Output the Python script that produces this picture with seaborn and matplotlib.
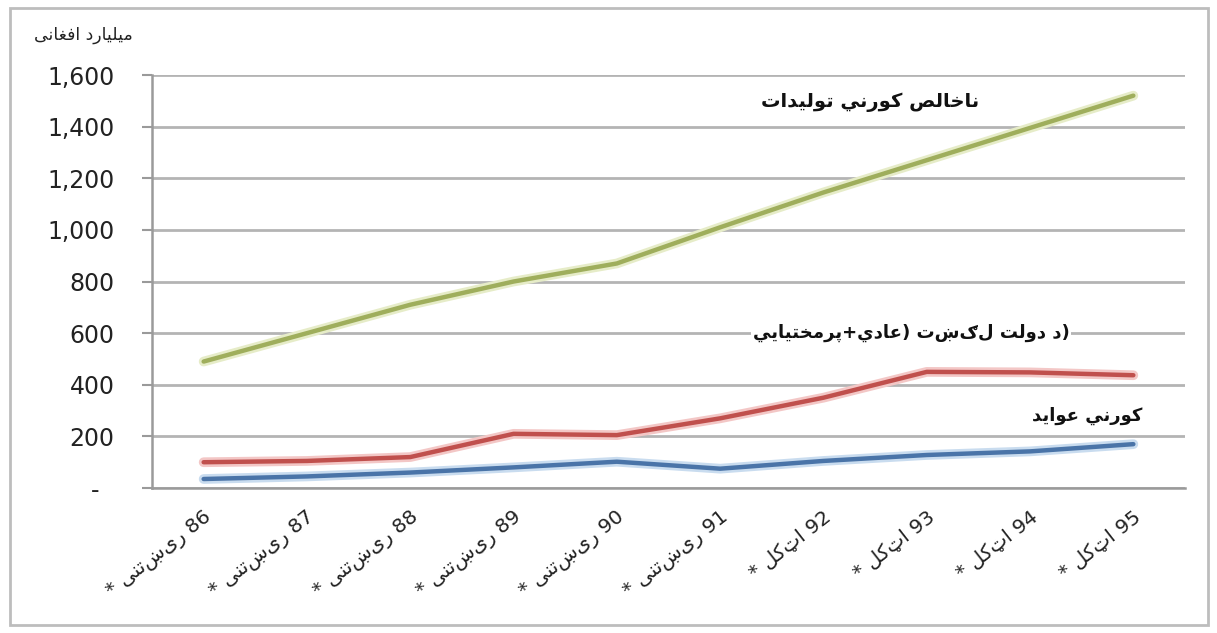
import re
import pandas as pd
import matplotlib
matplotlib.use('Agg')
import matplotlib.pyplot as plt
import matplotlib.patheffects as pe
from matplotlib.patches import Rectangle
from matplotlib.ticker import FixedLocator, FuncFormatter
import seaborn as sns

# data (billion afghanis)
years = ['86', '87', '88', '89', '90', '91', '92', '93', '94', '95']
status = ['ریښتنی'] * 6 + ['اټکل'] * 4
gdp = [490, 600, 710, 800, 870, 1010, 1145, 1270, 1395, 1520]
spending = [100, 105, 120, 210, 205, 270, 350, 450, 448, 437]
revenue = [35, 45, 60, 80, 102, 75, 105, 128, 142, 170]

series_names = ['ناخالص کورني تولیدات', 'د دولت لګښت (عادي+پرمختیایي)', 'کورني عواید']
y_title = 'میلیارد افغانی'

# matplotlib does no Arabic shaping: pick presentation forms by hand
# forms: isolated, final, initial, medial
AR_FORMS = {
    'ا': '\uFE8D\uFE8E', 'د': '\uFEA9\uFEAA', 'ر': '\uFEAD\uFEAE', 'و': '\uFEED\uFEEE',
    'ب': '\uFE8F\uFE90\uFE91\uFE92', 'پ': '\uFB56\uFB57\uFB58\uFB59',
    'ت': '\uFE95\uFE96\uFE97\uFE98', 'ح': '\uFEA1\uFEA2\uFEA3\uFEA4',
    'خ': '\uFEA5\uFEA6\uFEA7\uFEA8', 'ص': '\uFEB9\uFEBA\uFEBB\uFEBC',
    'ع': '\uFEC9\uFECA\uFECB\uFECC', 'غ': '\uFECD\uFECE\uFECF\uFED0',
    'ف': '\uFED1\uFED2\uFED3\uFED4', 'ک': '\uFB8E\uFB8F\uFB90\uFB91',
    'ل': '\uFEDD\uFEDE\uFEDF\uFEE0', 'م': '\uFEE1\uFEE2\uFEE3\uFEE4',
    'ن': '\uFEE5\uFEE6\uFEE7\uFEE8', 'ي': '\uFEF1\uFEF2\uFEF3\uFEF4',
    'ی': '\uFBFC\uFBFD\uFBFE\uFBFF',
}


def shape(word):
    out = []
    for i, ch in enumerate(word):
        forms = AR_FORMS.get(ch)
        if forms is None:
            out.append(ch)
            continue
        prev = word[i - 1] if i > 0 else ''
        nxt = word[i + 1] if i < len(word) - 1 else ''
        join_prev = len(AR_FORMS.get(prev, '')) == 4
        join_next = len(forms) == 4 and nxt in AR_FORMS
        idx = [[0, 2], [1, 3]][join_prev][join_next]
        out.append(forms[idx])
    return ''.join(out)


def rtl(s):
    # a trailing ")" stays on the right, as in the source chart
    tail = ''
    if s.endswith(')'):
        s, tail = s[:-1], ')'
    s = re.sub(r'[\u0600-\u06FF]+', lambda m: shape(m.group()), s)
    parts = re.findall(r'\d[\d,]*|.', s)
    return ''.join(parts[::-1]).translate(str.maketrans('()', ')(')) + tail


n = len(years)
df = pd.DataFrame({
    'idx': list(range(n)) * 3,
    'value': gdp + spending + revenue,
    'series': [series_names[0]] * n + [series_names[1]] * n + [series_names[2]] * n,
})

sns.set_style('white')
plt.rcParams['font.family'] = ['DejaVu Sans']

fig = plt.figure(figsize=(12.17, 6.33), dpi=100)
ax = fig.add_axes([0.1249, 0.229, 0.8488, 0.6525])

colors = ['#9fae5c', '#c0504d', '#4a74a8']
glow = ['#e6ecc8', '#f3c7c6', '#c9dcef']
sns.lineplot(data=df, x='idx', y='value', hue='series', palette=colors,
             linewidth=3.2, legend=False, ax=ax, zorder=3)
for line, g in zip(ax.lines, glow):
    line.set_path_effects([pe.Stroke(linewidth=7, foreground=g), pe.Normal()])

ax.set_xlim(-0.5, n - 0.5)
ax.set_ylim(0, 1600)
ax.set_yticks(range(0, 1601, 200))
ax.yaxis.set_major_formatter(FuncFormatter(lambda v, p: '-  ' if v == 0 else f'{int(v):,}'))
ax.grid(axis='y', color='#b4b4b4', linewidth=2)
ax.set_axisbelow(True)

ax.set_xticks(range(n))
ax.set_xticklabels([rtl(f'{y} {s} *') for s, y in zip(status, years)],
                   rotation=38, ha='right', va='top', rotation_mode='anchor')
ax.xaxis.set_minor_locator(FixedLocator([i - 0.5 for i in range(n + 1)]))
ax.tick_params(axis='x', which='major', length=0, pad=14, labelsize=14.5, labelcolor='#222222')
ax.tick_params(axis='x', which='minor', length=7, width=1.5, color='#9a9a9a', direction='out')
ax.tick_params(axis='y', length=7, width=1.5, color='#9a9a9a', pad=20, labelsize=17,
               labelcolor='#222222', left=True)
ax.set_xlabel('')
ax.set_ylabel('')

for side in ['top', 'right']:
    ax.spines[side].set_visible(False)
for side in ['left', 'bottom']:
    ax.spines[side].set_color('#9a9a9a')
    ax.spines[side].set_linewidth(1.8)

# series labels
ax.text(6.45, 1496, rtl(series_names[0]), ha='center', va='center', fontsize=14,
        fontweight='bold', color='#111111', zorder=5)
ax.text(6.85, 600, rtl(series_names[1]), ha='center', va='center', fontsize=13,
        fontweight='bold', color='#111111', zorder=5,
        bbox=dict(facecolor='white', edgecolor='none', pad=1))
ax.text(8.55, 279, rtl(series_names[2]), ha='center', va='center', fontsize=13,
        fontweight='bold', color='#111111', zorder=5)

fig.text(0.028, 0.945, rtl(y_title), ha='left', va='center', fontsize=12.5, color='#222222')

# outer frame of the chart
fig.patches.append(Rectangle((0.008, 0.013), 0.985, 0.975, transform=fig.transFigure,
                             fill=False, edgecolor='#bdbdbd', linewidth=2))

fig.savefig('out.png', dpi=100)
